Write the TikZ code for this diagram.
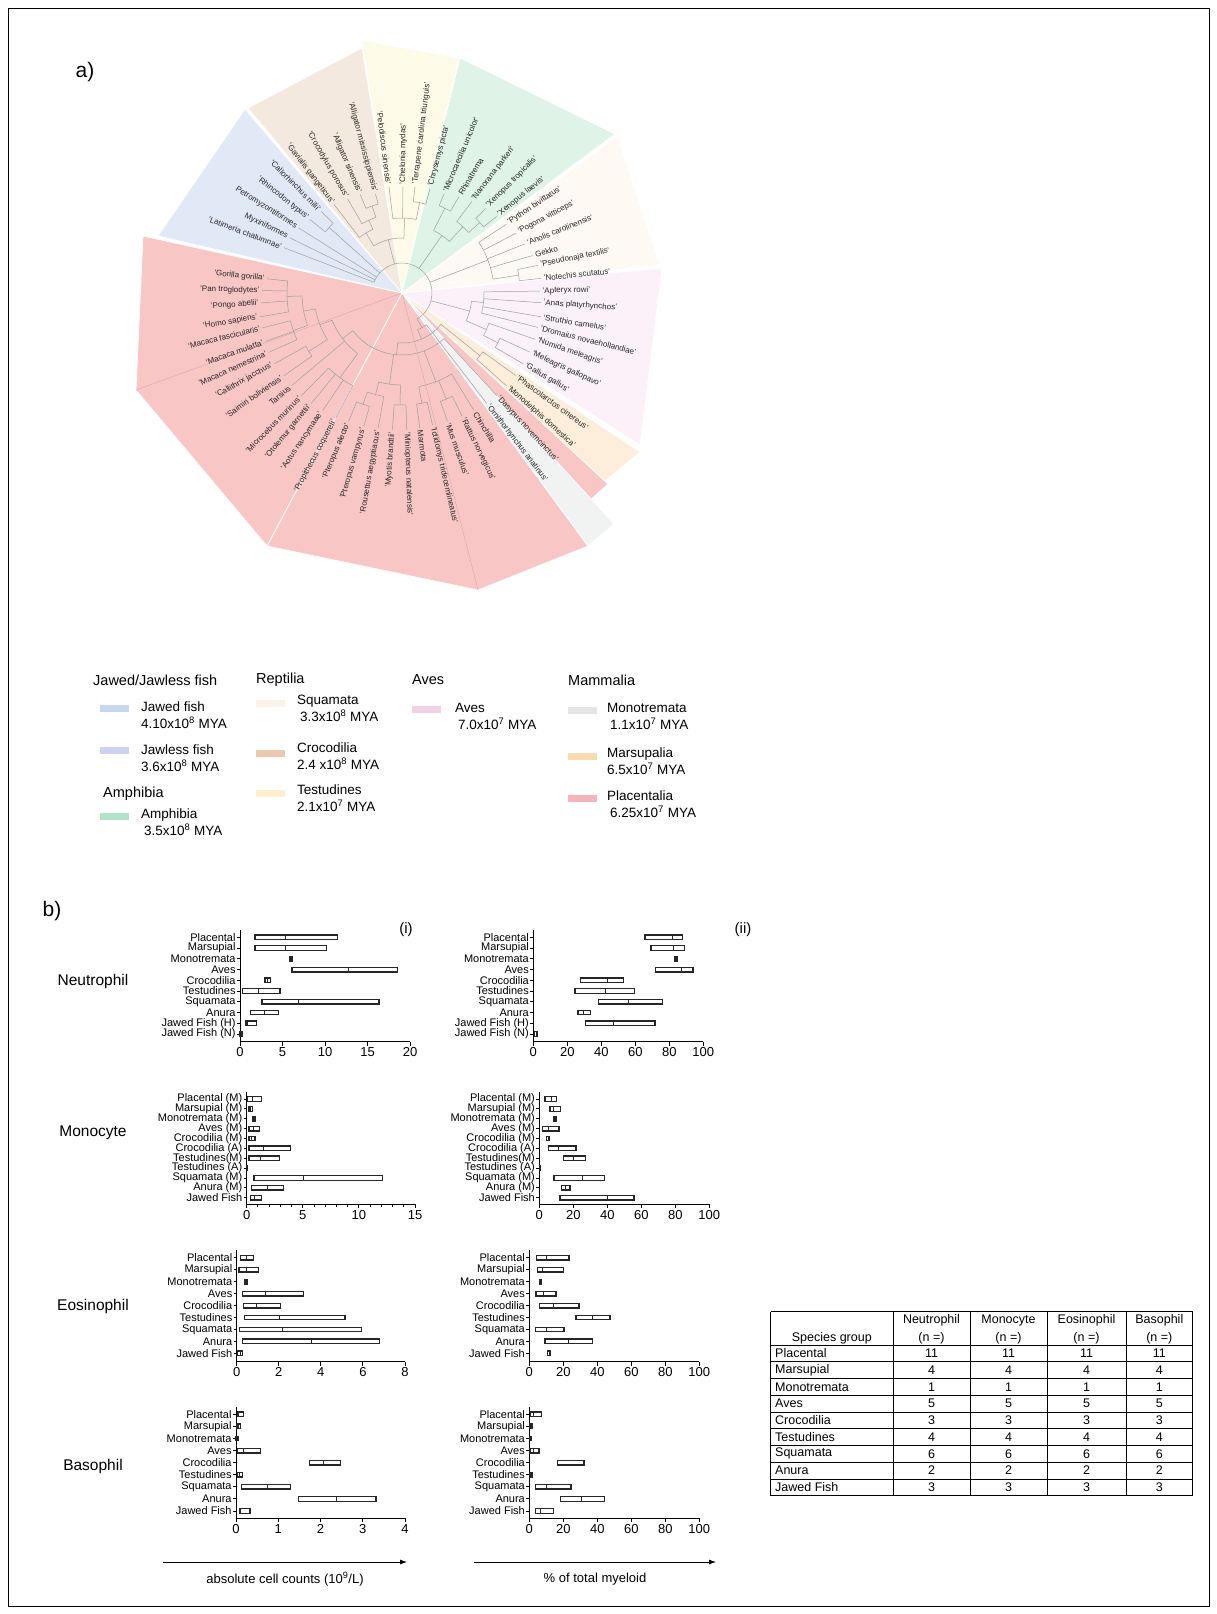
\documentclass[tikz,border=0pt]{standalone}
\usepackage{fontspec}
\setmainfont{Liberation Sans}
\usetikzlibrary{positioning,arrows.meta}

% wedge colours of the tree
\definecolor{wplac}{RGB}{249,198,198}
\definecolor{wfish}{RGB}{226,233,246}
\definecolor{wcroc}{RGB}{244,233,223}
\definecolor{wtest}{RGB}{254,250,232}
\definecolor{wamph}{RGB}{223,244,231}
\definecolor{wsqua}{RGB}{254,250,243}
\definecolor{waves}{RGB}{252,241,248}
\definecolor{wmars}{RGB}{252,238,218}
\definecolor{wmono}{RGB}{241,243,243}
% legend keys
\definecolor{kjawed}{RGB}{200,215,240}
\definecolor{kjawless}{RGB}{205,210,240}
\definecolor{kamph}{RGB}{175,228,200}
\definecolor{ksqua}{RGB}{252,242,232}
\definecolor{kcroc}{RGB}{235,200,175}
\definecolor{ktest}{RGB}{253,238,205}
\definecolor{kaves}{RGB}{240,210,230}
\definecolor{kmono}{RGB}{228,228,228}
\definecolor{kmars}{RGB}{250,218,175}
\definecolor{kplac}{RGB}{245,180,185}

% one floating bar: row, min, median, max
\newcommand{\bxrow}[4]{%
  \draw[bxl] ([yshift=-2.3pt]#2,#1) rectangle ([yshift=2.3pt]#4,#1);
  \draw[bxl,line width=0.9pt] ([yshift=-2.3pt]#3,#1) -- ([yshift=2.3pt]#3,#1);}

\begin{document}
\begin{tikzpicture}[x=1pt,y=1pt]
\tikzstyle{br}=[draw=black!38, line width=0.5pt]
\tikzstyle{leaf}=[font=\fontsize{8}{9}\selectfont, inner sep=0.5pt, text=black!85]
\tikzstyle{wedge}=[draw=white, line width=0.7pt]
\tikzstyle{sw}=[minimum width=29pt, minimum height=7pt, inner sep=0pt]
\tikzstyle{lg}=[font=\fontsize{13.5}{17}\selectfont, align=left, anchor=west, inner sep=0pt]
\tikzstyle{lgh}=[font=\fontsize{14.5}{17}\selectfont, anchor=west, inner sep=0pt]
\tikzstyle{big}=[font=\fontsize{21}{24}\selectfont]
\tikzstyle{cell}=[font=\fontsize{15.5}{18}\selectfont]
\tikzstyle{bxl}=[draw=black!85, line width=1.35pt]
\tikzstyle{ax}=[line width=0.9pt]
\tikzstyle{cat}=[font=\fontsize{11}{12}\selectfont, anchor=east, inner sep=1pt]
\tikzstyle{tk}=[font=\fontsize{13}{14}\selectfont, anchor=north, inner sep=1.5pt]
\tikzstyle{tbl}=[line width=0.8pt]
\tikzstyle{tx}=[font=\fontsize{12.5}{14}\selectfont, inner sep=0pt]

\useasboundingbox (0,0) rectangle (1217,-1614);
\draw[line width=0.8pt] (8,-8) rectangle (1209,-1606);

\node[big] (lbla) at (85,-72) {a)};
\node[big] (lblb) at (52,-911) {b)};

% ---- a) tree wedges
\coordinate (C) at (402,-293);
\path[wedge,fill=wplac] (C) -- (143,-236) -- (136,-390) -- (267,-546) -- (478,-590) -- (588,-546) -- cycle;
\draw[white,line width=0.9pt] (C) -- (267,-546);
\draw[wplac!85!black,line width=0.4pt] (C) -- (136,-390) (C) -- (478,-590);
\path[wedge,fill=wfish] (C) -- (158,-236) -- (245,-109) -- cycle;
\path[wedge,fill=wcroc] (C) -- (248,-108) -- (362,-48) -- cycle;
\path[wedge,fill=wtest] (C) -- (362,-40) -- (459,-58) -- cycle;
\path[wedge,fill=wamph] (C) -- (460,-58) -- (615,-134) -- cycle;
\path[wedge,fill=wsqua] (C) -- (617,-137) -- (660,-265) -- cycle;
\path[wedge,fill=waves] (C) -- (662,-268) -- (640,-445) -- cycle;
\path[wedge,fill=wmars] (C) -- (640,-452) -- (605,-481) -- cycle;
\path[wedge,fill=wplac] (C) -- (608,-484) -- (588,-502) -- cycle;
\path[wedge,fill=wmono] (C) -- (614,-524) -- (588,-546) -- cycle;

% ---- a) tree
\begin{scope}[shift={(C)}]
  \foreach \s/\e/\r in {174/189.5/115, 194/204/115, 181.7/199/100, 209/215/110,
      190.4/212/88, 225.6/242/105, 201.2/233.8/75, 247.4/254/118, 250.7/260/105,
      266/272/112, 255.4/269/92, 277.5/283/112, 289.5/296/115, 280.2/301.5/95,
      217.5/312.7/62, 318.4/324/100, 265/321.2/50, 293/307.5/40,
      329.7/335.2/108, 332.5/340.8/92, 345.8/360.8/82, 336.6/353.3/70,
      366/371.5/118, 368.7/393.4/92, 399/405.3/105, 402.2/412.6/90,
      419.4/427/95, 407.4/423.2/70, 435/443/92, 439/457/75, 465/473/92,
      469/480/80, 474.5/487.5/70, 448/481/55, 494.7/501.4/98, 300/519/30}
    \draw[br] (\s:\r pt) arc[start angle=\s, end angle=\e, radius=\r pt];
  \foreach \a/\r/\p in {181.7/115/100, 199/115/100, 190.4/100/88, 212/110/88,
      201.2/88/75, 233.8/105/75, 217.5/75/62, 250.7/118/105, 255.4/105/92,
      269/112/92, 262.2/92/62, 280.2/112/95, 292.7/115/95, 290.9/95/62,
      265/62/50, 321.2/100/50, 293/50/40, 300/40/30, 332.5/108/92, 336.6/92/70,
      353.3/82/70, 345/70/30, 368.7/118/92, 381/92/30, 402.2/105/90,
      407.4/90/70, 423.2/95/70, 415.3/70/30, 439/92/75, 448/75/55, 469/92/80,
      474.5/80/70, 481/70/55, 464.5/55/30, 498/98/30}
    \draw[br] (\a:\r pt) -- (\a:\p pt);
  \foreach \a/\r/\p/\n [count=\k] in {
      174/137.7/115/'Gorilla gorilla', 179/142/115/'Pan troglodytes',
      184/143.3/115/'Pongo abelii', 189.5/146/115/'Homo sapiens',
      194/146/115/'Macaca fascicularis', 199.5/147/115/'Macaca mulatta',
      204/148/115/'Macaca nemestrina', 209/148/110/'Callithrix jacchus',
      215/146.5/110/'Saimiri boliviensis', 220/146/75/Tarsius,
      225.6/145.7/105/'Microcebus murinus', 230.6/145/105/'Otolemur garnettii',
      236/144/105/'Aotus nancymaae', 242/143.6/105/'Propithecus coquereli',
      247.4/140.8/118/'Pteropus alecto', 254/140.5/118/'Pteropus vampyrus',
      260/139/105/'Rousettus aegyptiacus', 266/139/112/'Myotis brandtii',
      272/139/112/'Miniopterus natalensis', 277.5/138/112/Marmota,
      283/137.5/112/'Ictidomys tridecemlineatus', 289.5/138/115/'Mus musculus',
      296/139/115/'Rattus norvegicus', 301.5/139.6/95/Chinchilla,
      307.5/141/40/'Ornithorhynchus anatinus', 312.7/141.5/62/'Dasypus novemcinctus',
      318.4/141.7/100/'Monodelphis domestica', 324/142.4/100/'Phascolarctos cinereus',
      329.7/142.5/108/'Gallus gallus', 335.2/143/108/'Meleagris gallopavo',
      340.8/143/92/'Numida meleagris', 345.8/142.4/82/'Dromaius novaehollandiae',
      350.3/143/82/'Struthio camelus', 356/141.4/82/'Anas platyrhynchos',
      360.8/140/82/'Apteryx rowi', 366/141.8/118/'Notechis scutatus',
      371.5/140.8/118/'Pseudonaja textilis', 376/138/92/Gekko,
      381.8/134.6/92/'Anolis carolinensis', 387.7/131/92/'Pogona vitticeps',
      393.4/127/92/'Python bivittatus', 399/123.7/105/'Xenopus laevis',
      405.3/121/105/'Xenopus tropicalis', 412.6/117/90/'Nanorana parkeri',
      419.4/113.9/95/Rhinatrema, 427/109.8/95/'Microcaecilia unicolor',
      435/109.6/92/'Chrysemys picta', 443/108.8/92/'Terrapene carolina triunguis',
      449.5/108/75/'Chelonia mydas', 457/108.9/75/'Pelodiscus sinensis',
      465/104.5/92/'Alligator mississippiensis', 473/108.5/92/'Alligator sinensis',
      480/110.6/80/'Crocodylus porosus', 487.5/113.4/70/'Gavialis gangeticus',
      494.7/116.7/98/'Callorhinchus milii', 501.4/120/98/'Rhincodon typus',
      507.8/124/30/Petromyzontiformes, 513.8/127/30/Myxiniformes,
      519/128.5/30/'Latimeria chalumnae'}{
    \pgfmathsetmacro\m{mod(\a,360)}
    \pgfmathsetmacro\rr{\r-2}
    \pgfmathtruncatemacro\lft{and(\m>90,\m<270)}
    \draw[br] (\a:\p pt) -- (\a:\rr pt);
    \ifnum\lft=1
      \pgfmathsetmacro\rot{\m-180}
      \node[leaf,anchor=east,rotate=\rot] (lf\k) at (\a:\r pt) {\n};
    \else
      \node[leaf,anchor=west,rotate=\m] (lf\k) at (\a:\r pt) {\n};
    \fi
  }
\end{scope}

% ---- a) legend
\node[lgh] (hfish) at (93,-680) {Jawed/Jawless fish};
\node[lgh] (hrept) at (256,-680) {Reptilia};
\node[lgh] (haves) at (412,-680) {Aves};
\node[lgh] (hmamm) at (568,-680) {Mammalia};
\node[lgh] (hamph) at (103,-794) {Amphibia};

\node[sw,fill=kjawed] (kjf) at (114.5,-708) {};
\node[lg] (tjf) at (141,-715.5) {Jawed fish\\4.10x10\textsuperscript{8}\ MYA};
\node[sw,fill=kjawless] (kjl) at (114.5,-750) {};
\node[lg] (tjl) at (141,-758) {Jawless fish\\3.6x10\textsuperscript{8}\ MYA};
\node[sw,fill=kamph] (kam) at (114.5,-816) {};
\node[lg] (tam) at (141,-822) {Amphibia\\\hspace*{3pt}3.5x10\textsuperscript{8}\ MYA};

\node[sw,fill=ksqua] (ksq) at (270.5,-703) {};
\node[lg] (tsq) at (297,-708.5) {Squamata\\\hspace*{3pt}3.3x10\textsuperscript{8}\ MYA};
\node[sw,fill=kcroc] (kcr) at (270.5,-753) {};
\node[lg] (tcr) at (297,-756) {Crocodilia\\2.4 x10\textsuperscript{8}\ MYA};
\node[sw,fill=ktest] (kte) at (270.5,-793) {};
\node[lg] (tte) at (297,-798.5) {Testudines\\2.1x10\textsuperscript{7}\ MYA};

\node[sw,fill=kaves] (kav) at (426.5,-709) {};
\node[lg] (tav) at (455,-716.5) {Aves\\\hspace*{3pt}7.0x10\textsuperscript{7}\ MYA};

\node[sw,fill=kmono] (kmo) at (582.5,-710) {};
\node[lg] (tmo) at (607,-716.5) {Monotremata\\\hspace*{3pt}1.1x10\textsuperscript{7}\ MYA};
\node[sw,fill=kmars] (kma) at (582.5,-756) {};
\node[lg] (tma) at (607,-761) {Marsupalia\\6.5x10\textsuperscript{7}\ MYA};
\node[sw,fill=kplac] (kpl) at (582.5,-798) {};
\node[lg] (tpl) at (607,-804) {Placentalia\\\hspace*{3pt}6.25x10\textsuperscript{7}\ MYA};

% ---- b) cell type names
\node[cell] (cneu) at (93,-981) {Neutrophil};
\node[cell] (cmon) at (93,-1133) {Monocyte};
\node[cell] (ceos) at (93,-1306) {Eosinophil};
\node[cell] (cbas) at (93,-1466) {Basophil};
\node[font=\fontsize{15}{18}\selectfont] (pi) at (406,-930) {(i)};
\node[font=\fontsize{15}{18}\selectfont] (pii) at (743,-930) {(ii)};

% Neutrophil (i)
\begin{scope}[shift={(240,-937.3)}, x=8.5pt, y=-10.74pt]
  \draw[ax] (0,-0.68) -- (0,9.72) -- (20,9.72);
  \foreach \t in {0,5,...,20} \draw[ax] (\t,9.72) -- ++(0,-4pt) node[tk] (nat\t) {\t};
  \foreach \i/\lab/\lo/\md/\hi in {0/Placental/1.76/5.3/11.45, 1/Marsupial/1.76/5.3/10.2,
      2/Monotremata/5.8/5.95/6.1, 3/Aves/6.1/12.75/18.5, 4/Crocodilia/2.95/3.2/3.6,
      5/Testudines/0.3/2.15/4.7, 6/Squamata/2.6/6.9/16.35, 7/Anura/1.2/2.85/4.5,
      8/Jawed Fish (H)/0.7/0.9/1.95, 9/Jawed Fish (N)/0/0.1/0.25}{
    \draw[ax] (0,\i) -- ++(-3pt,0) node[cat] (na\i) {\lab};
    \bxrow{\i}{\lo}{\md}{\hi}
  }
\end{scope}

% Neutrophil (ii)
\begin{scope}[shift={(533.3,-937.3)}, x=1.7pt, y=-10.74pt]
  \draw[ax] (0,-0.68) -- (0,9.72) -- (100,9.72);
  \foreach \t in {0,20,...,100} \draw[ax] (\t,9.72) -- ++(0,-4pt) node[tk] (nbt\t) {\t};
  \foreach \i/\lab/\lo/\md/\hi in {0/Placental/65.7/81.8/87.6, 1/Marsupial/69.2/82.7/88.8,
      2/Monotremata/83.3/84/84.7, 3/Aves/72/87/94, 4/Crocodilia/27.8/43.7/52.9,
      5/Testudines/24.5/42.2/59.4, 6/Squamata/38.2/55.9/75.9, 7/Anura/26.3/29.6/33.7,
      8/Jawed Fish (H)/30.8/47.1/71.6, 9/Jawed Fish (N)/0.8/1.6/2.4}{
    \draw[ax] (0,\i) -- ++(-3pt,0) node[cat] (nb\i) {\lab};
    \bxrow{\i}{\lo}{\md}{\hi}
  }
\end{scope}

% Monocyte (i)
\begin{scope}[shift={(246.7,-1099)}, x=11.22pt, y=-9.87pt]
  \draw[ax] (0,-0.74) -- (0,10.67) -- (15,10.67);
  \foreach \t in {0,...,15} \draw[ax] (\t,10.67) -- ++(0,-3pt);
  \foreach \t in {0,5,10,15} \draw[ax] (\t,10.67) -- ++(0,-4pt) node[tk] (mat\t) {\t};
  \foreach \i/\lab/\lo/\md/\hi in {0/Placental (M)/0.06/0.53/1.34, 1/Marsupial (M)/0.2/0.35/0.5,
      2/Monotremata (M)/0.5/0.62/0.75, 3/Aves (M)/0.2/0.6/1.13, 4/Crocodilia (M)/0.2/0.45/0.75,
      5/Crocodilia (A)/0.2/1.5/3.9, 6/Testudines(M)/0.2/1.2/2.9, 7/Testudines (A)/0/0.03/0.06,
      8/Squamata (M)/0.65/5.05/12.1, 9/Anura (M)/0.45/1.85/3.27, 10/Jawed Fish/0.35/0.65/1.34}{
    \draw[ax] (0,\i) -- ++(-3pt,0) node[cat] (ma\i) {\lab};
    \bxrow{\i}{\lo}{\md}{\hi}
  }
\end{scope}

% Monocyte (ii)
\begin{scope}[shift={(539.3,-1099)}, x=1.7pt, y=-9.87pt]
  \draw[ax] (0,-0.74) -- (0,10.67) -- (100,10.67);
  \foreach \t in {0,20,...,100} \draw[ax] (\t,10.67) -- ++(0,-4pt) node[tk] (mbt\t) {\t};
  \foreach \i/\lab/\lo/\md/\hi in {0/Placental (M)/3.3/6.9/10.2, 1/Marsupial (M)/6.3/8.2/12.5,
      2/Monotremata (M)/8.6/9.2/9.8, 3/Aves (M)/1.8/5.3/11.6, 4/Crocodilia (M)/4.3/5.1/5.9,
      5/Crocodilia (A)/5.3/11.2/21.6, 6/Testudines(M)/14.1/20/27.3, 7/Testudines (A)/0/0.4/0.8,
      8/Squamata (M)/8.6/25.5/38.4, 9/Anura (M)/13.1/15.1/18, 10/Jawed Fish/12.2/40.2/55.7}{
    \draw[ax] (0,\i) -- ++(-3pt,0) node[cat] (mb\i) {\lab};
    \bxrow{\i}{\lo}{\md}{\hi}
  }
\end{scope}

% Eosinophil (i)
\begin{scope}[shift={(236.7,-1257.7)}, x=21.04pt, y=-11.96pt]
  \draw[ax] (0,-0.64) -- (0,8.7) -- (8,8.7);
  \foreach \t in {0,2,...,8} \draw[ax] (\t,8.7) -- ++(0,-4pt) node[tk] (eat\t) {\t};
  \foreach \i/\lab/\lo/\md/\hi in {0/Placental/0.19/0.48/0.79, 1/Marsupial/0.11/0.48/1.03,
      2/Monotremata/0.4/0.45/0.5, 3/Aves/0.27/1.35/3.17, 4/Crocodilia/0.32/0.92/2.09,
      5/Testudines/0.36/2.03/5.15, 6/Squamata/0.13/2.17/5.94, 7/Anura/0.29/3.53/6.78,
      8/Jawed Fish/0.03/0.16/0.27}{
    \draw[ax] (0,\i) -- ++(-3pt,0) node[cat] (ea\i) {\lab};
    \bxrow{\i}{\lo}{\md}{\hi}
  }
\end{scope}

% Eosinophil (ii)
\begin{scope}[shift={(529.3,-1257.7)}, x=1.7pt, y=-11.96pt]
  \draw[ax] (0,-0.64) -- (0,8.7) -- (100,8.7);
  \foreach \t in {0,20,...,100} \draw[ax] (\t,8.7) -- ++(0,-4pt) node[tk] (ebt\t) {\t};
  \foreach \i/\lab/\lo/\md/\hi in {0/Placental/4.3/10.2/23.3, 1/Marsupial/4.7/7.8/20,
      2/Monotremata/5.9/6.6/7.3, 3/Aves/3.9/8.2/15.7, 4/Crocodilia/5.9/14.1/29.2,
      5/Testudines/27.5/37.3/47.5, 6/Squamata/3.5/10.2/20.4, 7/Anura/9.2/23.3/37.3,
      8/Jawed Fish/10.8/11.6/12.5}{
    \draw[ax] (0,\i) -- ++(-3pt,0) node[cat] (eb\i) {\lab};
    \bxrow{\i}{\lo}{\md}{\hi}
  }
\end{scope}

% Basophil (i)
\begin{scope}[shift={(236,-1414.3)}, x=42.25pt, y=-12.08pt]
  \draw[ax] (0,-0.63) -- (0,8.61) -- (4,8.61);
  \foreach \t in {0,...,4} \draw[ax] (\t,8.61) -- ++(0,-4pt) node[tk] (bat\t) {\t};
  \foreach \i/\lab/\lo/\md/\hi in {0/Placental/0.03/0.05/0.17, 1/Marsupial/0.02/0.06/0.11,
      2/Monotremata/0/0.02/0.05, 3/Aves/0.03/0.17/0.58, 4/Crocodilia/1.74/2.07/2.48,
      5/Testudines/0.03/0.09/0.16, 6/Squamata/0.13/0.74/1.29, 7/Anura/1.48/2.38/3.31,
      8/Jawed Fish/0.08/0.1/0.33}{
    \draw[ax] (0,\i) -- ++(-3pt,0) node[cat] (ba\i) {\lab};
    \bxrow{\i}{\lo}{\md}{\hi}
  }
\end{scope}

% Basophil (ii)
\begin{scope}[shift={(529.3,-1414.3)}, x=1.7pt, y=-12.08pt]
  \draw[ax] (0,-0.63) -- (0,8.61) -- (100,8.61);
  \foreach \t in {0,20,...,100} \draw[ax] (\t,8.61) -- ++(0,-4pt) node[tk] (bbt\t) {\t};
  \foreach \i/\lab/\lo/\md/\hi in {0/Placental/0.8/2.4/7.3, 1/Marsupial/0.4/1.1/1.8,
      2/Monotremata/0/0.6/1.2, 3/Aves/0.4/2.4/5.7, 4/Crocodilia/16.5/16.5/32.2,
      5/Testudines/0.4/1.2/2, 6/Squamata/3.7/9.8/24.5, 7/Anura/18.4/30.8/44.1,
      8/Jawed Fish/3.7/6.3/14.1}{
    \draw[ax] (0,\i) -- ++(-3pt,0) node[cat] (bb\i) {\lab};
    \bxrow{\i}{\lo}{\md}{\hi}
  }
\end{scope}

% axis captions
\coordinate (absl) at (163,-1562);
\coordinate (absr) at (407,-1562);
\coordinate (pctl) at (474,-1562);
\coordinate (pctr) at (716,-1562);
\draw[line width=0.8pt,-{Latex[length=7pt,width=5pt]}] (absl) -- (absr);
\draw[line width=0.8pt,-{Latex[length=7pt,width=5pt]}] (pctl) -- (pctr);
\node[font=\fontsize{13}{15}\selectfont] (cabs) at (285,-1579) {absolute cell counts (10\textsuperscript{9}/L)};
\node[font=\fontsize{13}{15}\selectfont] (cpct) at (595,-1579) {\% of total myeloid};

% ---- table of n
\foreach \x in {770.7,893,970,1047,1126,1192.5} \draw[tbl] (\x,-1311.7) -- (\x,-1495.75);
\draw[tbl] (770.7,-1311.7) -- (1192.5,-1311.7);
\foreach \k in {0,...,9} \draw[tbl] (770.7,-1345-16.75*\k) -- (1192.5,-1345-16.75*\k);
\node[tx] (hsp) at (831.8,-1338) {Species group};
\foreach \c/\x/\h in {1/931.5/Neutrophil, 2/1008.5/Monocyte, 3/1086.5/Eosinophil, 4/1159.3/Basophil}{
  \node[tx] (hd\c) at (\x,-1320) {\h};
  \node[tx] (hn\c) at (\x,-1338) {(n =)};
}
\foreach \g/\n [count=\k] in {Placental/11, Marsupial/4, Monotremata/1, Aves/5, Crocodilia/3,
    Testudines/4, Squamata/6, Anura/2, Jawed Fish/3}{
  \node[tx,anchor=west] (rw\k) at (775,-1336.6-16.75*\k) {\g};
  \foreach \x [count=\c] in {931.5,1008.5,1086.5,1159.3}
    \node[tx] (v\k\c) at (\x,-1336.6-16.75*\k) {\n};
}
\end{tikzpicture}
\end{document}
